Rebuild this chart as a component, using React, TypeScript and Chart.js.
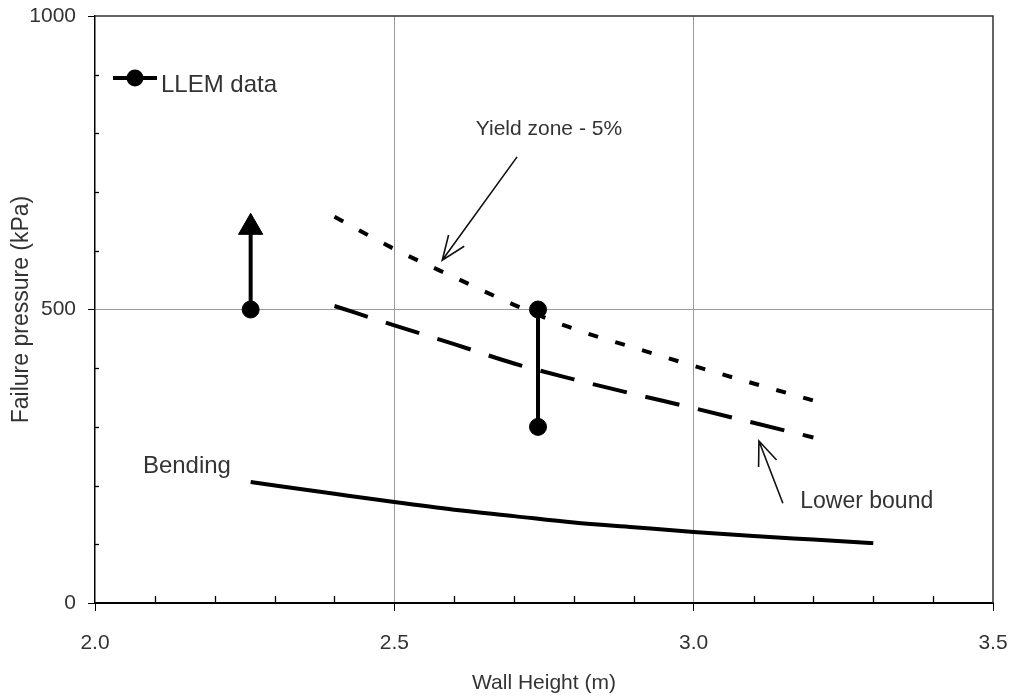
import React, { useEffect, useRef } from "react";
import { Chart, registerables } from "chart.js";

Chart.register(...registerables);

const FONT = "'Liberation Sans', Arial, Helvetica, sans-serif";

// Axis ranges / tick spacing
const xMin = 2.0;
const xMax = 3.5;
const xStep = 0.1;
const yMin = 0;
const yMax = 1000;
const yStep = 100;
const xLabelEvery = 0.5;
const yLabelEvery = 500;

// Series: Bending (solid)
const bendingX = [2.26, 2.4, 2.5, 2.6, 2.7, 2.8, 2.9, 3.0, 3.1, 3.2, 3.3];
const bendingY = [206, 186, 172, 159, 148, 137, 129, 121, 114, 108, 102];

// Series: Lower bound (long dashes)
const lowerX = [2.4, 2.5, 2.6, 2.7, 2.8, 2.9, 3.0, 3.1, 3.2];
const lowerY = [506, 473, 441, 408, 381, 356, 332, 307, 282];

// Series: Yield zone - 5% (short dashes)
const yieldX = [2.4, 2.5, 2.6, 2.7, 2.8, 2.9, 3.0, 3.1, 3.2];
const yieldY = [658, 603, 555, 508, 467, 435, 404, 374, 345];

// LLEM data: test 1 (failed above 500, arrow), test 2 (range 300-500)
const llem1X = [2.26, 2.26];
const llem1Y = [500, 640];
const llem2X = [2.74, 2.74];
const llem2Y = [500, 300];

// Annotation labels (anchored in data coordinates)
const labelText = ["Yield zone - 5%", "Lower bound", "Bending"];
const labelX = [2.636, 3.178, 2.08];
const labelY = [797, 162, 221];
const labelSize = [21, 23, 24];

// Annotation arrows (from -> tip, data coordinates)
const arrowFromX = [2.705, 3.149];
const arrowFromY = [760, 170];
const arrowToX = [2.58, 3.109];
const arrowToY = [584, 276];

const legendText = "LLEM data";

const pts = (xs: number[], ys: number[]) => xs.map((x, i) => ({ x, y: ys[i] }));
const isMultiple = (v: number, step: number) =>
  Math.abs(Math.round(v / step) * step - v) < 1e-6;

const extrasPlugin = {
  id: "extras",
  afterDraw(chart: any) {
    const { ctx, chartArea: a, scales } = chart;
    const xs = scales.x;
    const ys = scales.y;
    ctx.save();

    // frame top & right
    ctx.strokeStyle = "#333";
    ctx.lineWidth = 1.5;
    ctx.beginPath();
    ctx.moveTo(a.left, a.top);
    ctx.lineTo(a.right, a.top);
    ctx.lineTo(a.right, a.bottom);
    ctx.stroke();

    // inner minor ticks
    ctx.strokeStyle = "#000";
    ctx.lineWidth = 1.3;
    const nx = Math.round((xMax - xMin) / xStep);
    for (let i = 1; i < nx; i++) {
      const v = xMin + i * xStep;
      if (isMultiple(v, xLabelEvery)) continue;
      const px = Math.round(xs.getPixelForValue(v)) + 0.5;
      ctx.beginPath();
      ctx.moveTo(px, a.bottom);
      ctx.lineTo(px, a.bottom - 7);
      ctx.stroke();
    }
    const ny = Math.round((yMax - yMin) / yStep);
    for (let i = 1; i < ny; i++) {
      const v = yMin + i * yStep;
      if (isMultiple(v, yLabelEvery)) continue;
      const py = Math.round(ys.getPixelForValue(v)) + 0.5;
      ctx.beginPath();
      ctx.moveTo(a.left, py);
      ctx.lineTo(a.left + 4, py);
      ctx.stroke();
    }

    // legend (inside plot, top-left)
    const ly = a.top + 62;
    ctx.strokeStyle = "#000";
    ctx.lineWidth = 4;
    ctx.beginPath();
    ctx.moveTo(a.left + 18, ly);
    ctx.lineTo(a.left + 62, ly);
    ctx.stroke();
    ctx.fillStyle = "#000";
    ctx.beginPath();
    ctx.arc(a.left + 40, ly, 8.5, 0, Math.PI * 2);
    ctx.fill();
    ctx.fillStyle = "#333";
    ctx.font = `24px ${FONT}`;
    ctx.textAlign = "left";
    ctx.textBaseline = "alphabetic";
    ctx.fillText(legendText, a.left + 66, a.top + 76);

    // labels
    labelText.forEach((t, i) => {
      ctx.font = `${labelSize[i]}px ${FONT}`;
      ctx.fillStyle = "#333";
      ctx.fillText(t, xs.getPixelForValue(labelX[i]), ys.getPixelForValue(labelY[i]));
    });

    // arrows
    ctx.strokeStyle = "#111";
    ctx.lineWidth = 1.6;
    arrowFromX.forEach((fx, i) => {
      const x0 = xs.getPixelForValue(fx);
      const y0 = ys.getPixelForValue(arrowFromY[i]);
      const x1 = xs.getPixelForValue(arrowToX[i]);
      const y1 = ys.getPixelForValue(arrowToY[i]);
      ctx.beginPath();
      ctx.moveTo(x0, y0);
      ctx.lineTo(x1, y1);
      const ang = Math.atan2(y0 - y1, x0 - x1);
      const L = 26;
      const spread = 0.38;
      ctx.moveTo(x1 + L * Math.cos(ang - spread), y1 + L * Math.sin(ang - spread));
      ctx.lineTo(x1, y1);
      ctx.lineTo(x1 + L * Math.cos(ang + spread), y1 + L * Math.sin(ang + spread));
      ctx.stroke();
    });

    ctx.restore();
  },
};

const zeroPadding = (s: any) => {
  s.paddingTop = 0;
  s.paddingBottom = 0;
  s.paddingLeft = 0;
  s.paddingRight = 0;
};

export default function App() {
  const ref = useRef<HTMLCanvasElement | null>(null);

  useEffect(() => {
    if (!ref.current) return;
    const chart = new Chart(ref.current, {
      type: "line",
      data: {
        datasets: [
          {
            label: "Bending",
            data: pts(bendingX, bendingY),
            borderColor: "#000",
            borderWidth: 4,
            pointRadius: 0,
            cubicInterpolationMode: "monotone",
            fill: false,
          },
          {
            label: "Lower bound",
            data: pts(lowerX, lowerY),
            borderColor: "#000",
            borderWidth: 4,
            borderDash: [35, 19],
            pointRadius: 0,
            cubicInterpolationMode: "monotone",
            fill: false,
          },
          {
            label: "Yield zone - 5%",
            data: pts(yieldX, yieldY),
            borderColor: "#000",
            borderWidth: 4,
            borderDash: [10, 18],
            pointRadius: 0,
            cubicInterpolationMode: "monotone",
            fill: false,
          },
          {
            label: "LLEM data",
            data: pts(llem1X, llem1Y),
            borderColor: "#000",
            borderWidth: 4,
            pointStyle: ["circle", "triangle"] as any,
            pointRadius: [8.5, 14] as any,
            pointBackgroundColor: "#000",
            pointBorderColor: "#000",
            pointBorderWidth: 1,
            fill: false,
          },
          {
            label: "LLEM data ",
            data: pts(llem2X, llem2Y),
            borderColor: "#000",
            borderWidth: 4,
            pointStyle: "circle",
            pointRadius: 8.5,
            pointBackgroundColor: "#000",
            pointBorderColor: "#000",
            pointBorderWidth: 1,
            fill: false,
          },
        ] as any,
      },
      options: {
        animation: false,
        responsive: false,
        devicePixelRatio: 1,
        events: [],
        layout: { padding: { left: 0, right: 21, top: 16, bottom: 0 } },
        plugins: {
          legend: { display: false },
          tooltip: { enabled: false },
        },
        scales: {
          x: {
            type: "linear",
            min: xMin,
            max: xMax,
            afterFit: (s: any) => {
              s.height = 93;
              zeroPadding(s);
            },
            ticks: {
              stepSize: xStep,
              autoSkip: false,
              maxRotation: 0,
              minRotation: 0,
              padding: 20,
              color: "#333",
              font: { family: FONT, size: 21 },
              callback: (v: any) => (isMultiple(Number(v), xLabelEvery) ? Number(v).toFixed(1) : ""),
            },
            grid: {
              color: (c: any) => {
                const v = c.tick?.value;
                return v !== undefined && isMultiple(v, xLabelEvery) && v > xMin + 1e-6 && v < xMax - 1e-6
                  ? "#9a9a9a"
                  : "rgba(0,0,0,0)";
              },
              tickColor: (c: any) => {
                const v = c.tick?.value;
                return v !== undefined && isMultiple(v, xLabelEvery) ? "#000" : "rgba(0,0,0,0)";
              },
              tickLength: 8,
              lineWidth: 1,
            },
            border: { color: "#000", width: 2 },
            title: {
              display: true,
              text: "Wall Height (m)",
              color: "#333",
              font: { family: FONT, size: 21 },
              padding: { top: 0, bottom: 0 },
            },
          },
          y: {
            type: "linear",
            min: yMin,
            max: yMax,
            afterFit: (s: any) => {
              s.width = 95;
              zeroPadding(s);
            },
            ticks: {
              stepSize: yStep,
              autoSkip: false,
              padding: 12,
              color: "#333",
              font: { family: FONT, size: 21 },
              callback: (v: any) => (isMultiple(Number(v), yLabelEvery) ? String(v) : ""),
            },
            grid: {
              color: (c: any) => {
                const v = c.tick?.value;
                return v !== undefined && isMultiple(v, yLabelEvery) && v > yMin && v < yMax
                  ? "#9a9a9a"
                  : "rgba(0,0,0,0)";
              },
              tickColor: (c: any) => {
                const v = c.tick?.value;
                return v !== undefined && isMultiple(v, yLabelEvery) ? "#000" : "rgba(0,0,0,0)";
              },
              tickLength: 7,
              lineWidth: 1,
            },
            border: { color: "#000", width: 1.5 },
            title: {
              display: true,
              text: "Failure pressure (kPa)",
              color: "#333",
              font: { family: FONT, size: 23 },
              padding: { top: 8, bottom: 0 },
            },
          },
        },
      } as any,
      plugins: [extrasPlugin],
    });
    return () => chart.destroy();
  }, []);

  return (
    <div style={{ position: "fixed", left: 0, top: 0, width: 1014, height: 696, background: "#fff" }}>
      <canvas ref={ref} width={1014} height={696} style={{ display: "block" }} />
    </div>
  );
}
